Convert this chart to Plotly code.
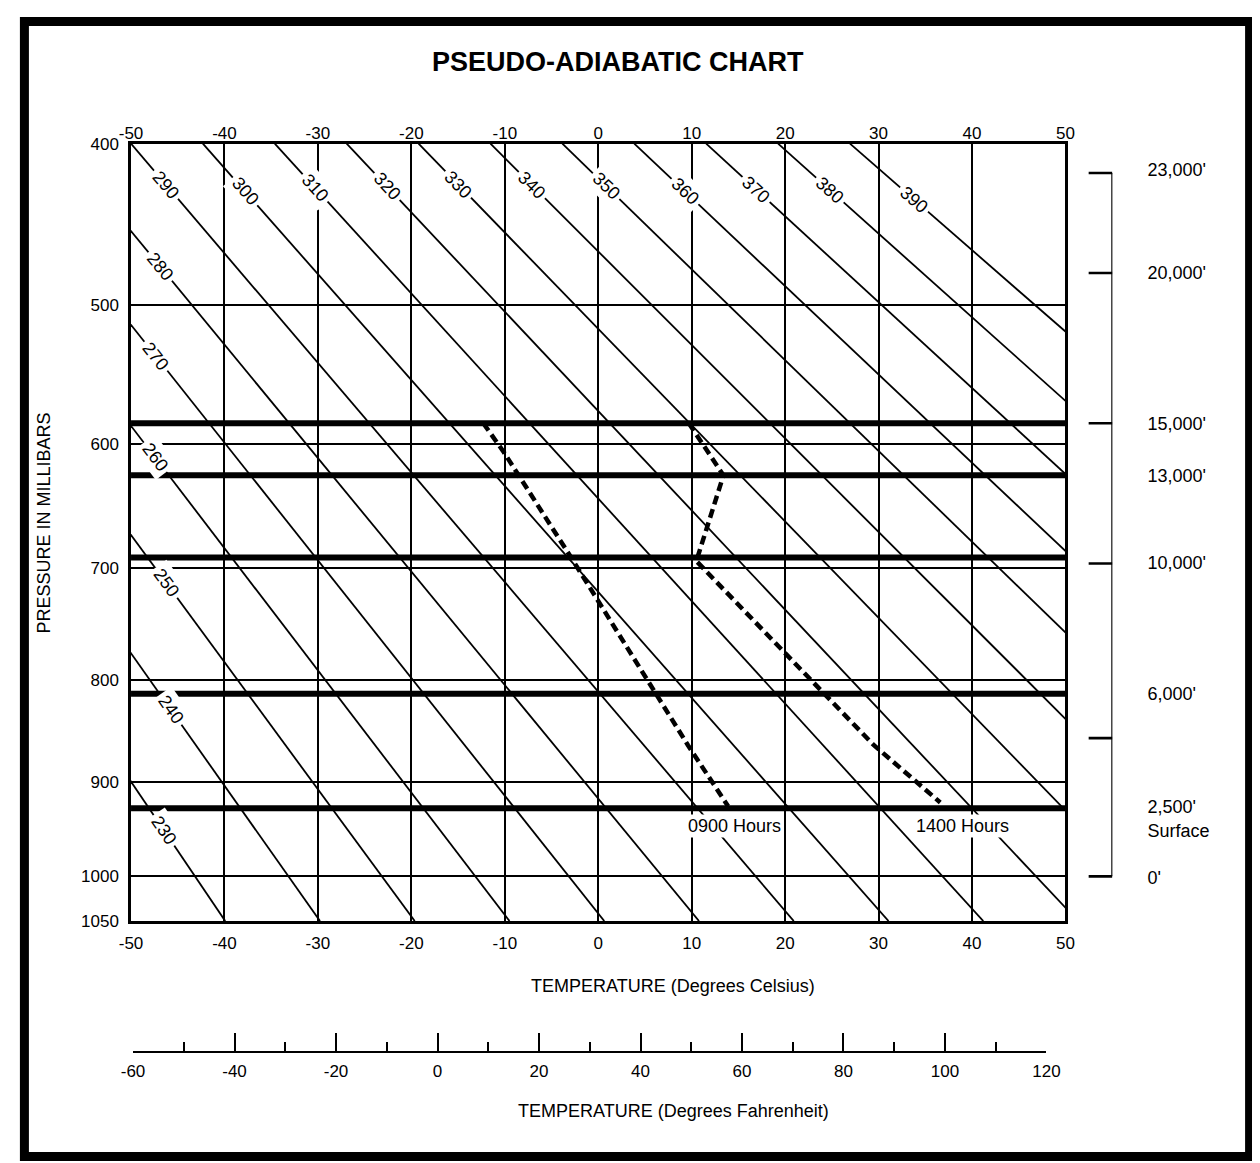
import numpy as np
import plotly.graph_objects as go

# ---------------- data ----------------
KAPPA = 0.286          # Stuve chart: vertical axis is linear in p**kappa

celsius_ticks = [-50, -40, -30, -20, -10, 0, 10, 20, 30, 40, 50]
celsius_labels = ["-50", "-40", "-30", "-20", "-10", "0", "10", "20", "30", "40", "50"]

pressure_ticks = [400, 500, 600, 700, 800, 900, 1000, 1050]
pressure_labels = ["400", "500", "600", "700", "800", "900", "1000", "1050"]

fahrenheit_ticks = [-60, -40, -20, 0, 20, 40, 60, 80, 100, 120]
fahrenheit_labels = ["-60", "-40", "-20", "0", "20", "40", "60", "80", "100", "120"]
fahrenheit_minor = [-50, -30, -10, 10, 30, 50, 70, 90, 110]

# dry adiabats (potential temperature, K) and the pressure where each label sits
theta_k = [230, 240, 250, 260, 270, 280, 290, 300, 310, 320, 330, 340, 350, 360, 370, 380, 390]
theta_label_p = [950, 828, 713, 610, 535, 475, 424, 428, 426, 425, 424, 424, 425, 428, 427, 427, 433]

# heavy altitude lines (pressure equivalents)
altitude_line_names = ["15,000'", "13,000'", "10,000'", "6,000'", "2,500'"]
altitude_line_p = [584, 624, 691, 813, 927]

# right-hand altitude scale
altitude_tick_p = [417, 479, 584, 696, 856, 1000]
altitude_label_text = ["23,000'", "20,000'", "15,000'", "13,000'", "10,000'", "6,000'", "2,500'", "Surface", "0'"]
altitude_label_p = [415, 479, 584, 624, 695, 813, 925, 951, 1001]

# temperature soundings
sounding_0900_t = [-12.3, -10.1, -2.9, 5.3, 9.6, 13.9]
sounding_0900_p = [584, 606, 691, 800, 863, 925]
sounding_1400_t = [9.7, 13.4, 10.5, 19.3, 29.5, 36.6]
sounding_1400_p = [584, 624, 694, 769, 863, 921]

sounding_names = ["0900 Hours", "1400 Hours"]
sounding_label_t = [14.6, 39.0]
sounding_label_p = [946, 946]

# ---------------- helpers ----------------
def u(p):
    return np.asarray(p, dtype=float) ** KAPPA

W, H = 1260, 1163
# mapping between figure pixels and the photographed picture
AX, BX = 17.8, 0.981
AY, BY = 14.9, 0.987

P_TOP, P_BOT = 400, 1050
X0, X1 = 129, 1065          # plot area in picture pixels
Y0, Y1 = 142, 922

FONT = "Liberation Sans, Arial, Helvetica, sans-serif"


def fx(px):
    return ((px - AX) / BX) / W


def fy(py):
    return 1 - ((py - AY) / BY) / H


fig = go.Figure()

# heavy altitude lines
for p in altitude_line_p:
    fig.add_trace(go.Scatter(x=[-50, 50], y=[u(p), u(p)], mode="lines",
                             line=dict(color="black", width=6), hoverinfo="skip"))

# dry adiabats: T = theta * (p/1000)**kappa
for th in theta_k:
    pp = np.array([P_TOP, P_BOT], dtype=float)
    tt = th * (pp / 1000.0) ** KAPPA - 273.15
    fig.add_trace(go.Scatter(x=tt, y=u(pp), mode="lines",
                             line=dict(color="black", width=1.8), hoverinfo="skip"))

# soundings
for tt, pp in [(sounding_0900_t, sounding_0900_p), (sounding_1400_t, sounding_1400_p)]:
    fig.add_trace(go.Scatter(x=tt, y=u(pp), mode="lines",
                             line=dict(color="black", width=4.5, dash="9px,5px"),
                             hoverinfo="skip"))

# invisible trace for the top axis
fig.add_trace(go.Scatter(x=[-50, 50], y=[u(P_TOP), u(P_TOP)], xaxis="x2", yaxis="y",
                         mode="lines", line=dict(color="rgba(0,0,0,0)", width=0),
                         hoverinfo="skip"))

# Fahrenheit scale subplot (invisible trace to build it)
fig.add_trace(go.Scatter(x=[-60, 120], y=[0, 0], xaxis="x3", yaxis="y3", mode="lines",
                         line=dict(color="rgba(0,0,0,0)", width=0), hoverinfo="skip"))

# altitude scale: spine and tick marks
fig.add_trace(go.Scatter(x=[1, 1], y=[u(altitude_tick_p[0]), u(altitude_tick_p[-1])],
                         xaxis="x4", yaxis="y4", mode="lines",
                         line=dict(color="black", width=2.2), hoverinfo="skip"))
tx, ty = [], []
for p in altitude_tick_p:
    tx += [0, 1, None]
    ty += [float(u(p)), float(u(p)), None]
fig.add_trace(go.Scatter(x=tx, y=ty, xaxis="x4", yaxis="y4", mode="lines",
                         line=dict(color="black", width=2.6), hoverinfo="skip"))

# ---------------- annotations ----------------
ann = []
sx = (X1 - X0) / 100.0
sy = (Y1 - Y0) / float(u(P_BOT) - u(P_TOP))
for th, pl in zip(theta_k, theta_label_p):
    tl = th * (pl / 1000.0) ** KAPPA - 273.15
    slope = th / 1000.0 ** KAPPA
    ang = np.degrees(np.arctan2(sy, sx * slope))
    ann.append(dict(x=tl, y=float(u(pl)), xref="x", yref="y", text=str(th),
                    xanchor="center", yanchor="middle",
                    showarrow=False, textangle=float(ang), bgcolor="white", borderpad=3,
                    font=dict(family=FONT, size=18, color="black")))

for name, tl, pl in zip(sounding_names, sounding_label_t, sounding_label_p):
    ann.append(dict(x=tl, y=float(u(pl)), xref="x", yref="y", text=name, showarrow=False,
                    xanchor="center", yanchor="middle", bgcolor="white", borderpad=1,
                    font=dict(family=FONT, size=18, color="black")))


def paper_text(text, px, py, size, angle=0):
    return dict(x=fx(px), y=fy(py), xref="paper", yref="paper", text=text,
                showarrow=False, xanchor="center", yanchor="middle", textangle=angle,
                font=dict(family=FONT, size=size, color="black"))


ann.append(paper_text("<b>PSEUDO-ADIABATIC CHART</b>", 617, 60, 27))
ann.append(paper_text("PRESSURE IN MILLIBARS", 42, 523, 18, -90))
ann.append(paper_text("TEMPERATURE (Degrees Celsius)", 672, 987, 18))
ann.append(paper_text("TEMPERATURE (Degrees Fahrenheit)", 672, 1113, 18))

tickfont = dict(family=FONT, size=17, color="black")

fig.update_layout(
    width=W, height=H, autosize=False,
    margin=dict(l=0, r=0, t=0, b=0, pad=0),
    paper_bgcolor="white", plot_bgcolor="white",
    showlegend=False, hovermode=False,
    annotations=ann,
    xaxis=dict(domain=[fx(X0), fx(X1)], range=[-50, 50], anchor="y",
               tickmode="array", tickvals=celsius_ticks, ticktext=celsius_labels,
               showgrid=True, gridcolor="black", gridwidth=2, zeroline=False,
               showline=True, mirror=True, linecolor="black", linewidth=2.5,
               ticks="", tickfont=tickfont, ticklabelstandoff=5),
    xaxis2=dict(overlaying="x", side="top", anchor="y", range=[-50, 50],
                tickmode="array", tickvals=celsius_ticks, ticktext=celsius_labels,
                showgrid=False, zeroline=False, showline=False, ticks="",
                tickfont=tickfont),
    yaxis=dict(domain=[fy(Y1), fy(Y0)], range=[float(u(P_BOT)), float(u(P_TOP))],
               anchor="x", tickmode="array", tickvals=[float(v) for v in u(pressure_ticks)],
               ticktext=pressure_labels, showgrid=True, gridcolor="black", gridwidth=2,
               zeroline=False, showline=True, mirror=True, linecolor="black",
               linewidth=2.5, ticks="", tickfont=tickfont, ticklabelstandoff=6),
    xaxis3=dict(domain=[fx(131), fx(1046)], range=[-60, 120], anchor="y3",
                tickmode="array", tickvals=fahrenheit_ticks, ticktext=fahrenheit_labels,
                ticks="inside", ticklen=18, tickwidth=2, tickcolor="black",
                minor=dict(tickmode="array", tickvals=fahrenheit_minor, ticks="inside",
                           ticklen=9, tickwidth=2, tickcolor="black", showgrid=False),
                showline=True, linecolor="black", linewidth=2, showgrid=False,
                zeroline=False, tickfont=tickfont, ticklabelstandoff=4),
    yaxis3=dict(domain=[fy(1052), fy(1028)], range=[0, 1], anchor="x3", visible=False),
    xaxis4=dict(domain=[fx(1088), fx(1112)], range=[0, 1], anchor="y4", visible=False),
    yaxis4=dict(domain=[fy(Y1), fy(Y0)], range=[float(u(P_BOT)), float(u(P_TOP))],
                anchor="x4", side="right", tickmode="array",
                tickvals=[float(v) for v in u(altitude_label_p)], ticktext=altitude_label_text,
                showgrid=False, zeroline=False, showline=False, ticks="",
                tickfont=dict(family=FONT, size=18, color="black"), ticklabelstandoff=34),
    shapes=[dict(type="rect", xref="paper", yref="paper",
                 x0=4.5 / W, x1=1 - 4.5 / W, y0=4.5 / H, y1=1 - 4.5 / H,
                 line=dict(color="black", width=9), fillcolor="rgba(0,0,0,0)")],
)

fig.write_html("out.html")
